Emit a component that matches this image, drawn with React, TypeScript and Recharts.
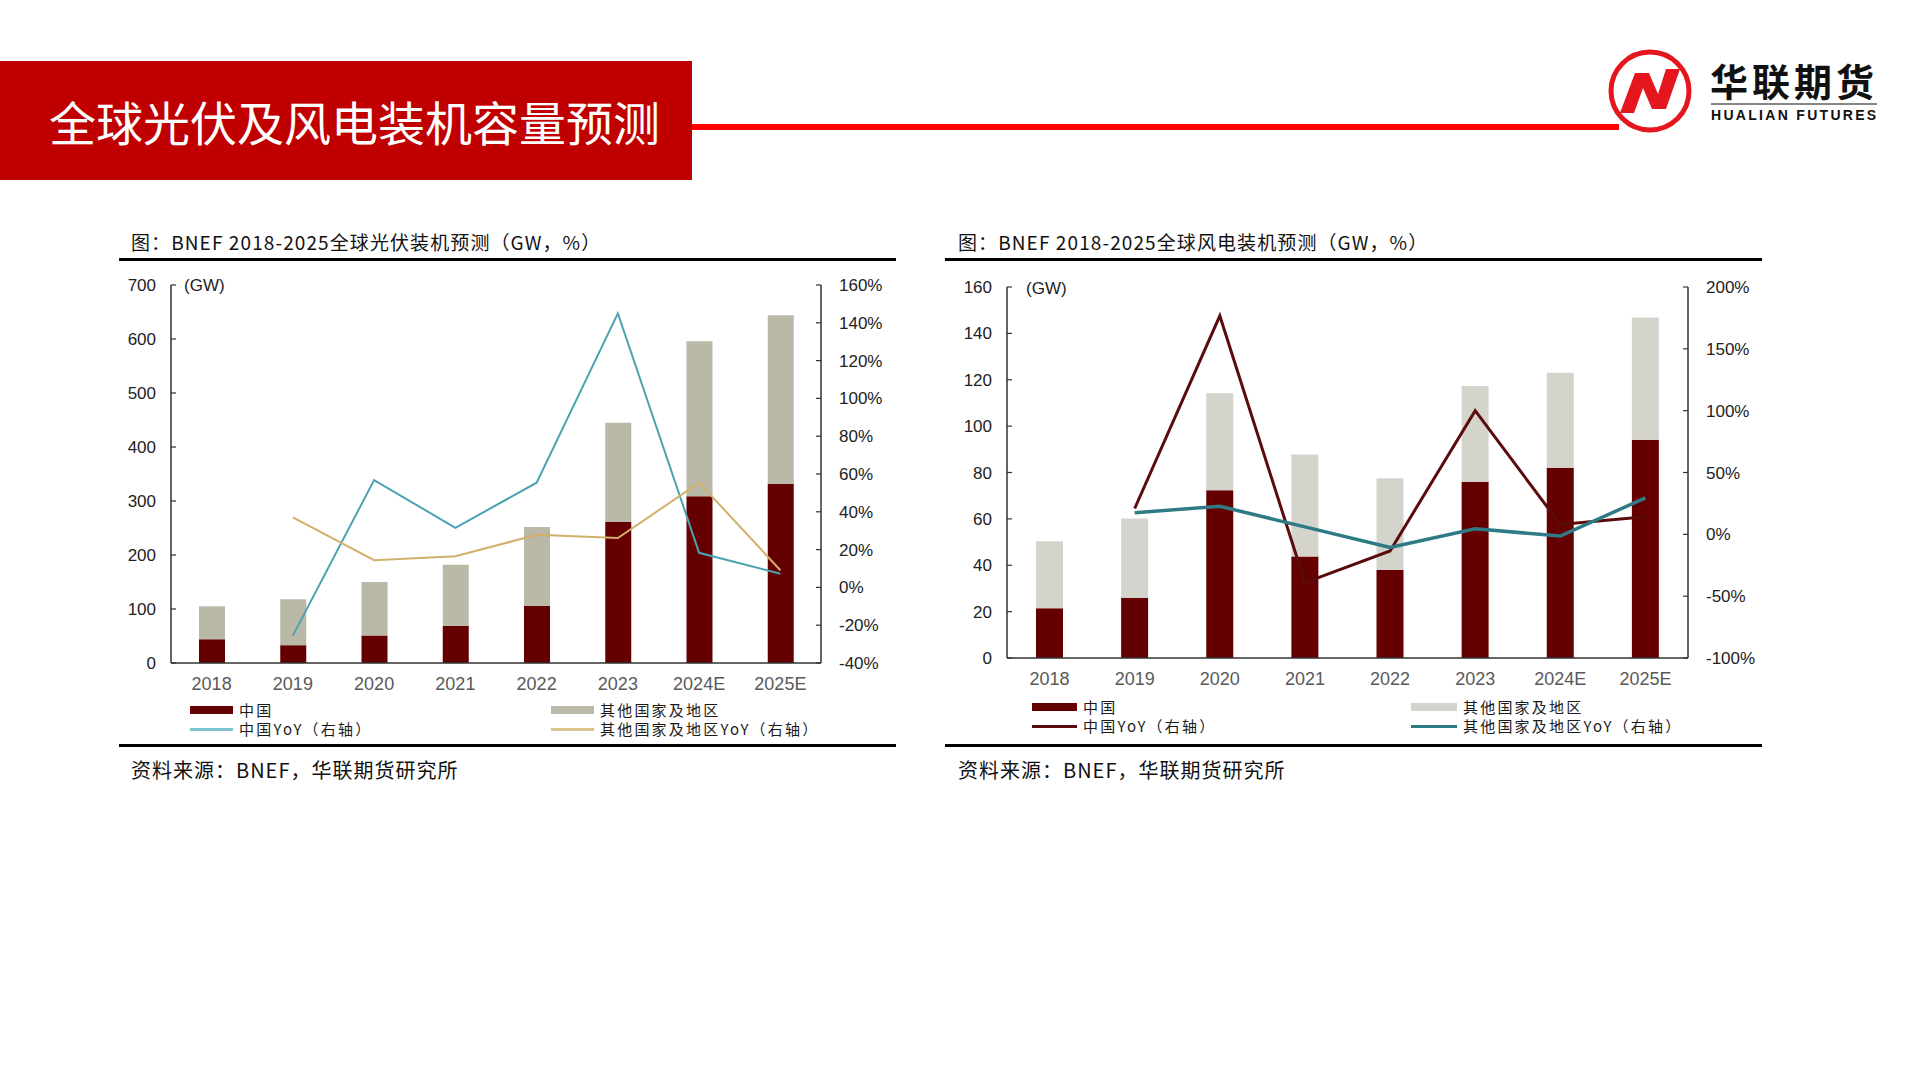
import React from 'react';
import { ComposedChart, Bar, Line, XAxis, YAxis } from 'recharts';

// ---------- data ----------
const years = ['2018', '2019', '2020', '2021', '2022', '2023', '2024E', '2025E'];

const pvChina = [44, 33, 51, 69, 106, 261, 309, 332];
const pvOther = [61, 85, 99, 113, 146, 184, 287, 312];
const pvChinaYoY = [null, -25.5, 56.8, 31.5, 55.4, 145, 18.3, 7.2];
const pvOtherYoY = [null, 37, 14.4, 16.5, 27.8, 26.1, 55.4, 9.1];

const windChina = [21.5, 26, 72.3, 43.8, 38, 76, 82, 94.1];
const windOther = [28.9, 34.2, 41.9, 44, 39.5, 41.3, 41, 52.7];
const windChinaYoY = [null, 20.9, 176.7, -39, -13.5, 100, 8, 14.2];
const windOtherYoY = [null, 17.4, 22.7, 6, -10.6, 4.5, -1.4, 29.5];

const pvLeftTicks = [0, 100, 200, 300, 400, 500, 600, 700];
const pvRightTicks = [-40, -20, 0, 20, 40, 60, 80, 100, 120, 140, 160];
const windLeftTicks = [0, 20, 40, 60, 80, 100, 120, 140, 160];
const windRightTicks = [-100, -50, 0, 50, 100, 150, 200];

const seriesNames = ['中国', '其他国家及地区', '中国YoY（右轴）', '其他国家及地区YoY（右轴）'];

const pageTitle = '全球光伏及风电装机容量预测';
const pvTitle = '图：BNEF 2018-2025全球光伏装机预测（GW，%）';
const windTitle = '图：BNEF 2018-2025全球风电装机预测（GW，%）';
const sourceText = '资料来源：BNEF，华联期货研究所';

const buildData = (a: number[], b: number[], c: (number | null)[], d: (number | null)[]) =>
  years.map((y, i) => ({ year: y, china: a[i], other: b[i], chinaYoY: c[i], otherYoY: d[i] }));

const pvData = buildData(pvChina, pvOther, pvChinaYoY, pvOtherYoY);
const windData = buildData(windChina, windOther, windChinaYoY, windOtherYoY);

const CJK = '"Noto Sans CJK SC", "Noto Sans", sans-serif';
const LAT = '"Liberation Sans", Arial, sans-serif';

type ChartProps = {
  data: any[];
  width: number;
  height: number;
  margin: any;
  leftW: number;
  rightW: number;
  leftDomain: [number, number];
  leftTicks: number[];
  rightDomain: [number, number];
  rightTicks: number[];
  barSize: number;
  chinaColor: string;
  otherColor: string;
  chinaLine: string;
  otherLine: string;
  chinaLineW: number;
  otherLineW: number;
};

function DualChart(p: ChartProps) {
  const tickStyle = { fontSize: 17, fill: '#222', fontFamily: LAT };
  return (
    <ComposedChart width={p.width} height={p.height} data={p.data} margin={p.margin}>
      <XAxis
        dataKey="year"
        axisLine={{ stroke: '#333', strokeWidth: 1.5 }}
        tickLine={false}
        tick={{ fontSize: 18, fill: '#595959', fontFamily: LAT }}
        tickMargin={8}
        height={30}
        interval={0}
      />
      <YAxis
        yAxisId="left"
        orientation="left"
        width={p.leftW}
        domain={p.leftDomain}
        ticks={p.leftTicks}
        interval={0}
        allowDataOverflow
        axisLine={{ stroke: '#333', strokeWidth: 1.5 }}
        tickLine={{ stroke: '#333', strokeWidth: 1.2 }}
        tickSize={-5}
        tickMargin={20}
        tick={tickStyle}
      />
      <YAxis
        yAxisId="right"
        orientation="right"
        width={p.rightW}
        domain={p.rightDomain}
        ticks={p.rightTicks}
        interval={0}
        allowDataOverflow
        axisLine={{ stroke: '#333', strokeWidth: 1.5 }}
        tickLine={{ stroke: '#333', strokeWidth: 1.2 }}
        tickSize={-5}
        tickMargin={23}
        tickFormatter={(v: number) => `${v}%`}
        tick={tickStyle}
      />
      <Bar yAxisId="left" dataKey="china" stackId="s" fill={p.chinaColor} barSize={p.barSize} isAnimationActive={false} />
      <Bar yAxisId="left" dataKey="other" stackId="s" fill={p.otherColor} barSize={p.barSize} isAnimationActive={false} />
      <Line yAxisId="right" type="linear" dataKey="chinaYoY" stroke={p.chinaLine} strokeWidth={p.chinaLineW} dot={false} isAnimationActive={false} />
      <Line yAxisId="right" type="linear" dataKey="otherYoY" stroke={p.otherLine} strokeWidth={p.otherLineW} dot={false} isAnimationActive={false} />
    </ComposedChart>
  );
}

function LegendBlock(props: {
  left: number; top: number; textL: number; col2: number; text2: number; rowGap: number;
  chinaColor: string; otherColor: string; chinaLine: string; otherLine: string; lineH: number;
}) {
  const txt: React.CSSProperties = {
    position: 'absolute', fontFamily: CJK, fontSize: 15, color: '#1a1a1a',
    lineHeight: '16px', height: 16, whiteSpace: 'nowrap', letterSpacing: 2.2, overflow: 'visible',
  };
  const item = (x: number, tx: number, y: number, kind: 'bar' | 'line', color: string, label: string, h: number) => (
    <React.Fragment key={label}>
      <div style={{ position: 'absolute', left: x, top: y - (kind === 'bar' ? 4 : h / 2), width: tx - x - 6, height: kind === 'bar' ? 8 : h, background: color }} />
      <div style={{ ...txt, left: tx, top: y - 8 }}>{label}</div>
    </React.Fragment>
  );
  const { left, top, textL, col2, text2, rowGap } = props;
  return (
    <>
      {item(left, textL, top, 'bar', props.chinaColor, seriesNames[0], 8)}
      {item(col2, text2, top, 'bar', props.otherColor, seriesNames[1], 8)}
      {item(left, textL, top + rowGap, 'line', props.chinaLine, seriesNames[2], props.lineH)}
      {item(col2, text2, top + rowGap, 'line', props.otherLine, seriesNames[3], props.lineH)}
    </>
  );
}

function Logo() {
  const cx = 1650, cy = 91;
  const pts = [
    [-30, 22], [-15, -18], [-1, -18], [8, 3], [16, -22], [30, -22], [16, 18], [2, 18], [-7, -3], [-16, 22],
  ].map(([x, y]) => `${cx + x},${cy + y}`).join(' ');
  return (
    <>
      <svg style={{ position: 'absolute', left: 0, top: 0 }} width={1920} height={200}>
        <circle cx={cx} cy={cy} r={39} fill="#fff" stroke="#E5161D" strokeWidth={5} />
        <polygon points={pts} fill="#E5161D" />
        <line x1={1711} y1={104} x2={1877} y2={104} stroke="#111" strokeWidth={1.2} />
      </svg>
      <div style={{ position: 'absolute', left: 1710, top: 57, fontFamily: CJK, fontWeight: 700, fontSize: 38, lineHeight: '46px', color: '#111', letterSpacing: 4, whiteSpace: 'nowrap' }}>华联期货</div>
      <div style={{ position: 'absolute', left: 1711, top: 107, fontFamily: LAT, fontWeight: 700, fontSize: 14, lineHeight: '16px', color: '#111', letterSpacing: 2.3, whiteSpace: 'nowrap' }}>HUALIAN FUTURES</div>
    </>
  );
}

export default function App() {
  const abs = (s: React.CSSProperties): React.CSSProperties => ({ position: 'absolute', ...s });
  const subStyle: React.CSSProperties = { fontSize: 19, lineHeight: '28px', color: '#111', whiteSpace: 'nowrap', letterSpacing: 1.1 };
  const srcStyle: React.CSSProperties = { fontSize: 20, lineHeight: '28px', color: '#111', whiteSpace: 'nowrap', letterSpacing: 1 };
  return (
    <div style={{ position: 'absolute', left: 0, top: 0, width: 1920, height: 1080, background: '#fff', overflow: 'hidden', fontFamily: CJK }}>
      {/* header */}
      <div style={abs({ left: 0, top: 61, width: 692, height: 119, background: '#C00000' })}>
        <div style={{ position: 'absolute', left: 49, top: 0, lineHeight: '119px', fontSize: 47, color: '#fff', whiteSpace: 'nowrap' }}>{pageTitle}</div>
      </div>
      <div style={abs({ left: 692, top: 124, width: 927, height: 6, background: '#FF0000' })} />
      <Logo />

      {/* left panel */}
      <div style={abs({ left: 131, top: 228, ...subStyle })}>{pvTitle}</div>
      <div style={abs({ left: 119, top: 258, width: 777, height: 3, background: '#000' })} />
      <div style={abs({ left: 110, top: 268 })}>
        <DualChart
          data={pvData} width={800} height={440}
          margin={{ top: 17, right: 0, left: 0, bottom: 15 }}
          leftW={61} rightW={89}
          leftDomain={[0, 700]} leftTicks={pvLeftTicks}
          rightDomain={[-40, 160]} rightTicks={pvRightTicks}
          barSize={26}
          chinaColor="#650000" otherColor="#BAB8A7"
          chinaLine="#4DA2B1" otherLine="#D2B06A"
          chinaLineW={2} otherLineW={2}
        />
      </div>
      <div style={abs({ left: 184, top: 276, fontFamily: LAT, fontSize: 17, lineHeight: '20px', color: '#222' })}>(GW)</div>
      <LegendBlock left={190} textL={239} top={710} col2={551} text2={600} rowGap={19}
        chinaColor="#650000" otherColor="#BAB8A7" chinaLine="#7FC3CC" otherLine="#D9C48E" lineH={3} />
      <div style={abs({ left: 119, top: 744, width: 777, height: 3, background: '#000' })} />
      <div style={abs({ left: 131, top: 756, ...srcStyle })}>{sourceText}</div>

      {/* right panel */}
      <div style={abs({ left: 958, top: 228, ...subStyle })}>{windTitle}</div>
      <div style={abs({ left: 945, top: 258, width: 817, height: 3, background: '#000' })} />
      <div style={abs({ left: 945, top: 268 })}>
        <DualChart
          data={windData} width={840} height={440}
          margin={{ top: 19, right: 0, left: 0, bottom: 20 }}
          leftW={62} rightW={97}
          leftDomain={[0, 160]} leftTicks={windLeftTicks}
          rightDomain={[-100, 200]} rightTicks={windRightTicks}
          barSize={27}
          chinaColor="#650000" otherColor="#D5D4CC"
          chinaLine="#5A0B0B" otherLine="#2E7B86"
          chinaLineW={3} otherLineW={3.5}
        />
      </div>
      <div style={abs({ left: 1026, top: 279, fontFamily: LAT, fontSize: 17, lineHeight: '20px', color: '#222' })}>(GW)</div>
      <LegendBlock left={1032} textL={1083} top={707} col2={1411} text2={1463} rowGap={19}
        chinaColor="#650000" otherColor="#D5D4CC" chinaLine="#5A0B0B" otherLine="#2E7B86" lineH={3} />
      <div style={abs({ left: 945, top: 744, width: 817, height: 3, background: '#000' })} />
      <div style={abs({ left: 958, top: 756, ...srcStyle })}>{sourceText}</div>
    </div>
  );
}
